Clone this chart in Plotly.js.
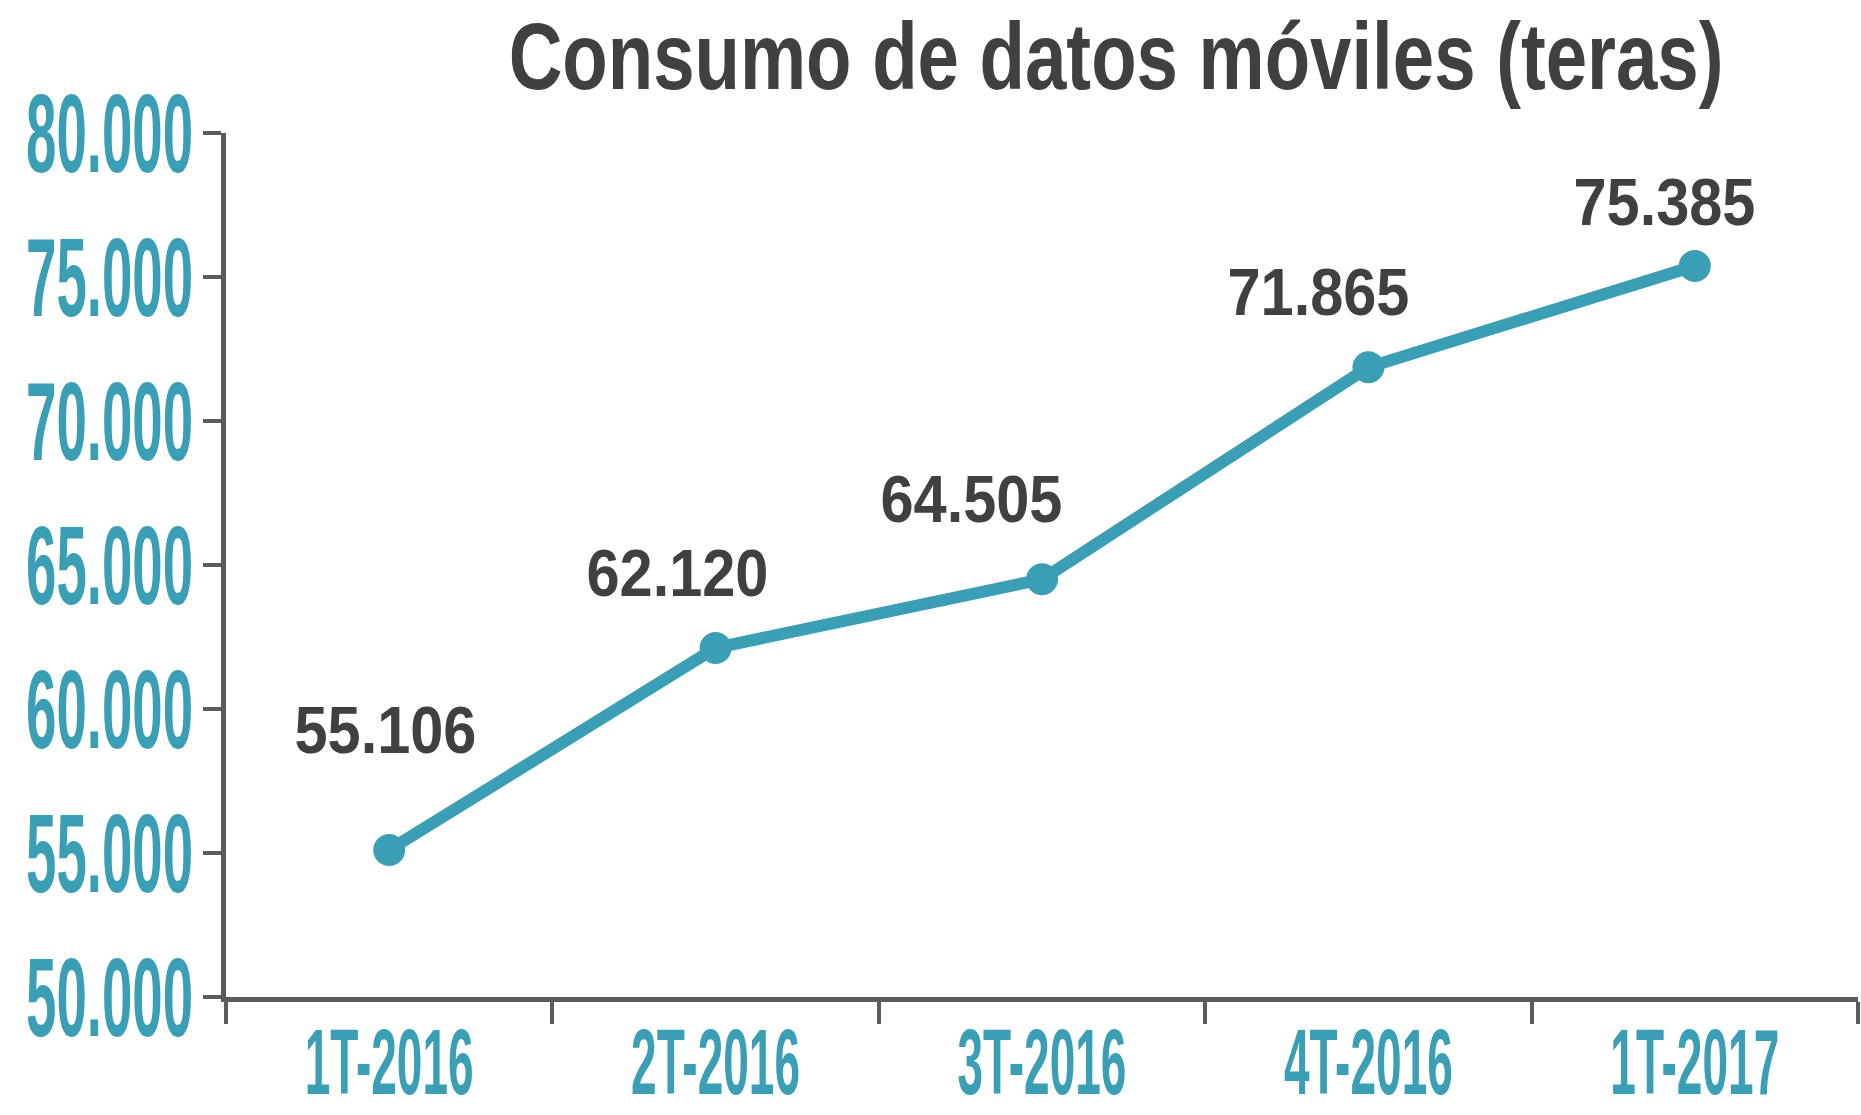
<!DOCTYPE html>
<html>
<head>
<meta charset="utf-8">
<script src="https://cdn.plot.ly/plotly-3.0.1.min.js"></script>
<style>
  html, body { margin: 0; padding: 0; background: #ffffff; }
  #chart { width: 1861px; height: 1115px; }
</style>
</head>
<body>
<div id="chart"></div>
<script>
// ---- data ----
const categories = ['1T-2016', '2T-2016', '3T-2016', '4T-2016', '1T-2017'];
const consumo = [55106, 62120, 64505, 71865, 75385];
const yTickValues = [50000, 55000, 60000, 65000, 70000, 75000, 80000];
const chartTitle = 'Consumo de datos móviles (teras)';

// ---- styling (label offsets in pixels, not data) ----
const labelShiftX = [-4, -38, -71, -50, -30];
const labelShiftY = [120, 75, 81, 76, 64];

const TEAL = '#3a9eb5';
const DARK = '#404040';
const AXIS = '#5b5b5b';
const FONT = '"Liberation Sans", Arial, Helvetica, sans-serif';

function fmt(v) {
  return String(v).replace(/\B(?=(\d{3})+(?!\d))/g, '.');
}

const trace = {
  type: 'scatter',
  mode: 'lines+markers',
  x: categories,
  y: consumo,
  line: { color: TEAL, width: 12 },
  marker: { color: TEAL, size: 32 },
  hoverinfo: 'skip',
  showlegend: false
};

const annotations = categories.map((c, i) => ({
  x: c,
  y: consumo[i],
  xref: 'x',
  yref: 'y',
  text: fmt(consumo[i]),
  showarrow: false,
  xanchor: 'center',
  yanchor: 'middle',
  xshift: labelShiftX[i],
  yshift: labelShiftY[i],
  font: { family: FONT, size: 67, color: DARK, weight: 'bold' }
}));

const layout = {
  width: 1861,
  height: 1115,
  paper_bgcolor: '#ffffff',
  plot_bgcolor: '#ffffff',
  separators: ',.',
  margin: { l: 226, r: 3, t: 133, b: 118, pad: 0 },
  title: {
    text: '<b>' + chartTitle + '</b>',
    font: { family: FONT, size: 95, color: DARK },
    x: 0.5997,
    xref: 'container',
    xanchor: 'center',
    y: 0.950,
    yref: 'container',
    yanchor: 'middle'
  },
  xaxis: {
    type: 'category',
    range: [-0.5, 4.5],
    tickson: 'boundaries',
    tickangle: 0,
    ticks: 'outside',
    ticklen: 22,
    tickwidth: 4,
    tickcolor: AXIS,
    showline: true,
    linecolor: AXIS,
    linewidth: 5,
    showgrid: false,
    zeroline: false,
    tickfont: { family: FONT, size: 92, color: TEAL, weight: 'bold' },
    fixedrange: true
  },
  yaxis: {
    range: [50000, 80000],
    tickmode: 'array',
    tickvals: yTickValues,
    tickformat: ',',
    ticks: 'outside',
    ticklen: 18,
    tickwidth: 4,
    tickcolor: AXIS,
    showline: true,
    linecolor: AXIS,
    linewidth: 5,
    showgrid: false,
    zeroline: false,
    tickfont: { family: FONT, size: 112, color: TEAL, weight: 'bold' },
    fixedrange: true
  },
  annotations: annotations
};

// Condense text horizontally to mimic the narrow display typeface of the original.
// width: target rendered width; anchor: fixed point; right/bottom: optional target edges (px).
const FIT = [
  { sel: '.ytick text', width: 167, anchor: 'right', right: 193 },
  { sel: '.xtick text', width: 169, anchor: 'center', bottom: 1113 },
  { sel: 'text.gtitle', width: 1215, anchor: 'center' },
  { sel: 'text.annotation-text', width: 182, anchor: 'center' }
];

function condense(gd) {
  const host = gd.getBoundingClientRect();
  FIT.forEach(spec => {
    gd.querySelectorAll(spec.sel).forEach(el => {
      try {
        const cur = el.getAttribute('transform') || '';
        if (cur.indexOf('scale(') !== -1) return;
        const bb = el.getBBox();
        if (!bb.width) return;
        const sx = spec.width / bb.width;
        const ax = spec.anchor === 'right' ? bb.x + bb.width : bb.x + bb.width / 2;
        const ay = bb.y + bb.height / 2;
        const r = el.getBoundingClientRect();
        let dx = 0, dy = 0;
        if (spec.right !== undefined) dx = spec.right - (r.right - host.left);
        if (spec.bottom !== undefined) dy = spec.bottom - (r.bottom - host.top);
        el.setAttribute('transform',
          cur + ' translate(' + dx + ',' + dy + ')' +
          ' translate(' + ax + ',' + ay + ') scale(' + sx + ',1) translate(' + (-ax) + ',' + (-ay) + ')');
      } catch (e) {}
    });
  });
}

const gd = document.getElementById('chart');
Plotly.newPlot(gd, [trace], layout, { displayModeBar: false, staticPlot: true }).then(() => {
  condense(gd);
  gd.on && gd.on('plotly_afterplot', () => condense(gd));
});
</script>
</body>
</html>
